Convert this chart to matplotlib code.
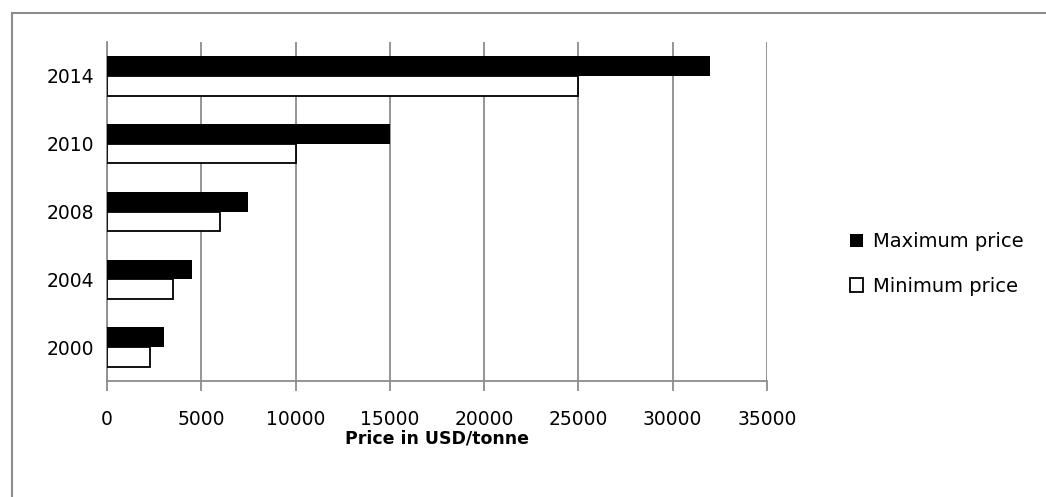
import numpy as np
import matplotlib
matplotlib.use("Agg")
import matplotlib.pyplot as plt
from matplotlib.patches import Rectangle

years = ["2000", "2004", "2008", "2010", "2014"]
max_price = [3000, 4500, 7500, 15000, 32000]
min_price = [2300, 3500, 6000, 10000, 25000]

plt.rcParams['font.family'] = ['DejaVu Sans']
grey = '#8c8c8c'

fig = plt.figure(figsize=(10.46, 4.97), dpi=100)
# outer chart border (only top and left visible, chart is cropped)
fig.patches.append(Rectangle((12/1046, -0.1), 1.2, (497-13)/497 + 0.1,
                             transform=fig.transFigure, fill=False,
                             edgecolor=grey, linewidth=1.5))

ax = fig.add_axes([107/1046, 1 - 381/497, (767-107)/1046, (381-42)/497])

y = np.arange(len(years))
h = 0.29
ax.barh(y + h/2, max_price, height=h, color='black', label='Maximum price', zorder=3)
ax.barh(y - h/2, min_price, height=h, color='white', edgecolor='black',
        linewidth=1.3, label='Minimum price', zorder=3)

ax.set_xlim(0, 35000)
ax.set_ylim(-0.5, len(years) - 0.5)
ax.set_xticks(np.arange(0, 35001, 5000))
ax.set_yticks(y)
ax.set_yticklabels(years)
ax.grid(axis='x', color=grey, linewidth=1.3, zorder=0)

for s in ['top', 'right']:
    ax.spines[s].set_visible(False)
for s in ['left', 'bottom']:
    ax.spines[s].set_color(grey)
    ax.spines[s].set_linewidth(1.3)
ax.tick_params(axis='y', length=0, labelsize=13.5, pad=9)
ax.tick_params(axis='x', length=7, width=1.3, color=grey, labelsize=13.5, pad=14)

ax.set_xlabel('Price in USD/tonne', fontsize=12.5, fontweight='bold', labelpad=0)

fig.legend(loc='center left', bbox_to_anchor=(832/1046, 1 - 264/497), frameon=False,
           fontsize=14, handlelength=0.7, handleheight=0.7, handletextpad=0.5,
           labelspacing=1.3)

fig.savefig('out.png', dpi=100)
